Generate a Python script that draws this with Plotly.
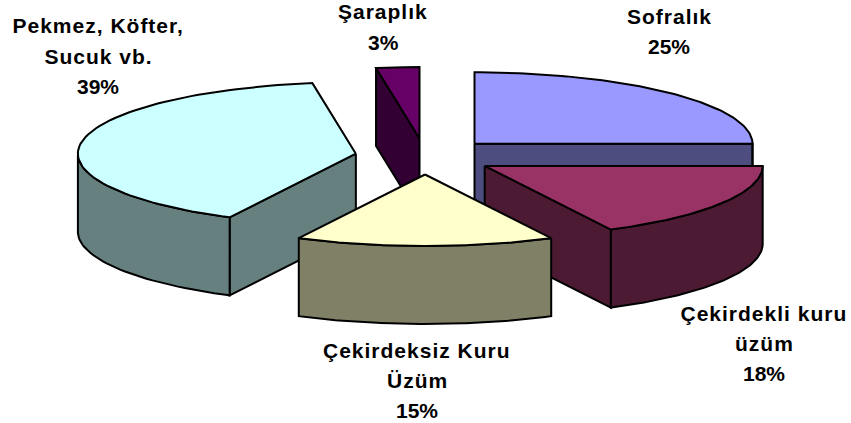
import numpy as np
import plotly.graph_objects as go

# ---- data ----
categories = ["Sofralık", "Çekirdekli kuru<br>üzüm", "Çekirdeksiz Kuru<br>Üzüm", "Pekmez, Köfter,<br>Sucuk vb.", "Şaraplık"]
percent_labels = [25, 18, 15, 39, 3]          # printed percentages
slice_shares = [25.0, 17.5, 15.0, 40.0, 2.5]  # widths as seen in the drawn pie

# ---- styling ----
top_colors = ["#9999FF", "#993366", "#FFFFCC", "#CCFFFF", "#660066"]
side_colors = ["#4D4D80", "#4D1A33", "#808066", "#668080", "#330033"]

# ---- 3D pie projection (pixel-based plot area) ----
W, H = 851, 423
CX, CY = 425.0, 156.5
RX, TILT = 278.0, 0.257
DEPTH = 78.0
EXPLODE = 70.0
draw_order = [0, 4, 3, 1, 2]
label_lines_xy = [(669, [16, 46]), (764, [313, 343, 373]), (417, [350, 380, 410]),
                  (98, [25, 56, 86]), (383, [11, 42])]


def project(theta_deg, r):
    t = np.radians(theta_deg)
    return r * np.sin(t), -r * np.cos(t) * TILT


edges = np.concatenate([[0], np.cumsum(slice_shares)]) * 3.6
fig = go.Figure()


def poly(xs, ys, color):
    xs, ys = list(xs), list(ys)
    fig.add_trace(go.Scatter(
        x=xs + xs[:1], y=ys + ys[:1], mode="lines", fill="toself",
        fillcolor=color, line=dict(color="black", width=2),
        hoverinfo="skip", showlegend=False))


for i in draw_order:
    a0, a1 = edges[i], edges[i + 1]
    ex, ey = project((a0 + a1) / 2, EXPLODE)
    ax, ay = CX + ex, CY + ey
    th = np.linspace(a0, a1, 80)
    rx, ry = project(th, RX)
    rx, ry = ax + rx, ay + ry

    # radial side walls that face the viewer
    for a in (a0, a1):
        px, py = project(a, RX)
        px, py = ax + px, ay + py
        faces_front = (a == a0 and np.sin(np.radians(a)) < 0) or (a == a1 and np.sin(np.radians(a)) > 0)
        if faces_front:
            poly([ax, px, px, ax], [ay, py, py + DEPTH, ay + DEPTH], side_colors[i])

    # outer rim wall, only where the rim is on the near half
    front = np.cos(np.radians(th)) <= 0.0001
    if front.any():
        fx, fy = rx[front], ry[front]
        poly(np.concatenate([fx, fx[::-1]]), np.concatenate([fy, fy[::-1] + DEPTH]), side_colors[i])

    # top face
    poly(np.concatenate([[ax], rx]), np.concatenate([[ay], ry]), top_colors[i])

annotations = []
for name, pct, (lx, ys) in zip(categories, percent_labels, label_lines_xy):
    for text, ly in zip(name.split("<br>") + [f"{pct}%"], ys):
        annotations.append(dict(
            x=lx, y=ly, xref="x", yref="y", text=f"<b>{text}</b>", showarrow=False,
            xanchor="center", yanchor="middle",
            font=dict(family="Liberation Sans", size=21, color="black")))

fig.update_layout(
    width=W, height=H, margin=dict(l=0, r=0, t=0, b=0),
    paper_bgcolor="white", plot_bgcolor="white", showlegend=False,
    xaxis=dict(range=[0, W], visible=False, fixedrange=True),
    yaxis=dict(range=[H, 0], visible=False, fixedrange=True),
    annotations=annotations)

post = """
document.body.style.margin = '0';
document.body.style.overflow = 'hidden';
document.querySelectorAll('.annotation-text').forEach(function (t) {
  if (t.textContent.indexOf('%') < 0) { t.style.letterSpacing = '1px'; }
});
"""
fig.write_html("out.html", config={"displayModeBar": False}, post_script=post)
